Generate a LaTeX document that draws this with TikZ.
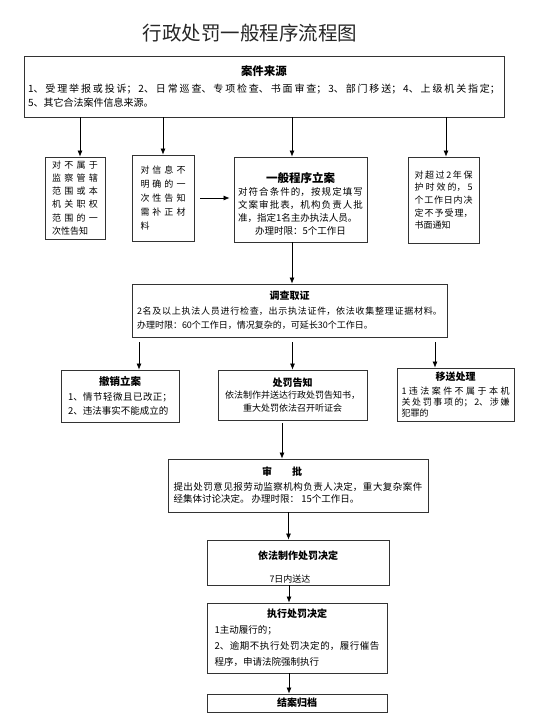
\documentclass[tikz,border=0pt]{standalone}
\usepackage{fontspec}
\setmainfont{Noto Sans CJK SC}
\usepackage{tikz}
\usetikzlibrary{positioning,arrows.meta}
\XeTeXlinebreaklocale "zh"
\XeTeXlinebreakskip=0pt plus 8pt
\setlength{\parindent}{0pt}
\setlength{\parskip}{0pt}
% bold centred head line of a box
\newcommand{\boxhead}[2][10]{{\centering\fontsize{#1}{#1}\selectfont\bfseries #2\par}}
\tikzset{
  box/.style={draw=black!80, line width=0.8pt, inner sep=0pt, align=justify},
  arr/.style={-{Latex[length=6pt,width=5pt]}, line width=0.7pt},
}

\begin{document}
\begin{tikzpicture}[x=1pt,y=-1pt]
  \useasboundingbox (0,0) rectangle (544,723);
  \node[font=\fontsize{19.5}{20}\selectfont, text=black!85] (title) at (250,33) {行政处罚一般程序流程图};
  % source of cases
  \node[box, font=\fontsize{10}{14}\selectfont, minimum width=480pt, minimum height=61pt, text width=472pt] (laiyuan) at (264,86.5)
    {\boxhead[11.5]{案件来源}\vspace{3pt}1、受理举报或投诉；2、日常巡查、专项检查、书面审查；3、部门移送；4、上级机关指定；\linebreak 5、其它合法案件信息来源。};
  % second row
  \node[box, font=\fontsize{9}{13.2}\selectfont, minimum width=60pt, minimum height=82pt, text width=46pt] (buguan) at (75,198)
    {对不属于\linebreak 监察管辖\linebreak 范围或本\linebreak 机关职权\linebreak 范围的一\linebreak 次性告知};
  \node[box, font=\fontsize{9}{14}\selectfont, minimum width=62pt, minimum height=86pt, text width=45pt] (buxiang) at (163,198)
    {对信息不\linebreak 明确的一\linebreak 次性告知\linebreak 需补正材\linebreak 料};
  \node[box, font=\fontsize{9.5}{13}\selectfont, minimum width=133pt, minimum height=85pt, text width=125pt] (lian) at (300.5,199.5)
    {\boxhead[11.5]{\rule{0pt}{19pt}一般程序立案}对符合条件的，按规定填写\linebreak 文案审批表，机构负责人批\linebreak 准，指定1名主办执法人员。\par{\centering 办理时限：5个工作日\par}};
  \node[box, font=\fontsize{9}{12.7}\selectfont, minimum width=71pt, minimum height=86pt, text width=58pt] (chaoguo) at (443.5,200)
    {对超过2年保\linebreak 护时效的，5\linebreak 个工作日内决\linebreak 定不予受理，\linebreak 书面通知};
  % investigation
  \node[box, font=\fontsize{9}{14.5}\selectfont, minimum width=315pt, minimum height=53pt, text width=305pt] (diaocha) at (289.5,310.5)
    {\boxhead{调查取证}2名及以上执法人员进行检查，出示执法证件，依法收集整理证据材料。\linebreak 办理时限：60个工作日，情况复杂的，可延长30个工作日。\par\vspace{8pt}};
  % third row
  \node[box, font=\fontsize{9.5}{14.5}\selectfont, minimum width=118pt, minimum height=52pt, text width=104pt] (chexiao) at (120,396)
    {\boxhead[10.5]{撤销立案}1、情节轻微且已改正；\linebreak 2、违法事实不能成立的};
  \node[box, font=\fontsize{9}{12.5}\selectfont, minimum width=149pt, minimum height=50pt, text width=143pt] (gaozhi) at (292.5,395)
    {\boxhead{处罚告知}{\centering 依法制作并送达行政处罚告知书，\\ 重大处罚依法召开听证会\par}};
  \node[box, font=\fontsize{9}{11}\selectfont, minimum width=117pt, minimum height=53pt, text width=108pt] (yisong) at (455.5,394.5)
    {\boxhead{移送处理}\vspace{3pt}1违法案件不属于本机\linebreak 关处罚事项的；2、涉嫌\linebreak 犯罪的};
  % approval and after
  \node[box, font=\fontsize{9.5}{12}\selectfont, minimum width=260pt, minimum height=53pt, text width=249pt] (shenpi) at (298,485.5)
    {\boxhead{审\hspace{2em}批\hspace*{32pt}}\vspace{3pt}提出处罚意见报劳动监察机构负责人决定，重大复杂案件\linebreak 经集体讨论决定。 办理时限： 15个工作日。};
  \node[box, font=\fontsize{9}{23}\selectfont, minimum width=182pt, minimum height=45pt, text width=176pt] (zhizuo) at (298,562.5)
    {\boxhead{\rule{0pt}{18pt}依法制作处罚决定}{\centering 7日内送达\hspace*{16pt}\par}};
  \node[box, font=\fontsize{9.5}{16}\selectfont, minimum width=180pt, minimum height=70pt, text width=165pt] (zhixing) at (297,638)
    {\boxhead{执行处罚决定}1主动履行的；\par 2、逾期不执行处罚决定的，履行催告\linebreak 程序，申请法院强制执行};
  \node[box, align=center, font=\fontsize{10}{10}\selectfont\bfseries, minimum width=180pt, minimum height=18pt] (guidang) at (297,703) {结案归档};
  % connectors
  \foreach \n/\dx in {buguan/5, buxiang/0, lian/-8.5, chaoguo/2.5}
    \draw[arr] ([xshift=\dx pt]\n.north |- laiyuan.south) -- ([xshift=\dx pt]\n.north);
  \draw[arr, shorten <=6pt, shorten >=4pt] (buxiang.east) -- (buxiang.east -| lian.west);
  \draw[arr] ([xshift=-8.5pt]lian.south) -- ([xshift=-8.5pt]lian.south |- diaocha.north);
  \foreach \n/\dx in {chexiao/19, gaozhi/0, yisong/-20.5}
    \draw[arr, shorten <=5pt] ([xshift=\dx pt]\n.north |- diaocha.south) -- ([xshift=\dx pt]\n.north);
  \draw[arr, shorten <=3pt] ([xshift=-10.5pt]gaozhi.south) -- ([xshift=-10.5pt]gaozhi.south |- shenpi.north);
  \draw[arr] ([xshift=-9.5pt]shenpi.south) -- ([xshift=-9.5pt]shenpi.south |- zhizuo.north);
  \draw[arr] ([xshift=-9pt]zhizuo.south) -- ([xshift=-9pt]zhizuo.south |- zhixing.north);
  \draw[arr] ([xshift=-8pt]zhixing.south) -- ([xshift=-8pt]zhixing.south |- guidang.north);
\end{tikzpicture}
\end{document}
